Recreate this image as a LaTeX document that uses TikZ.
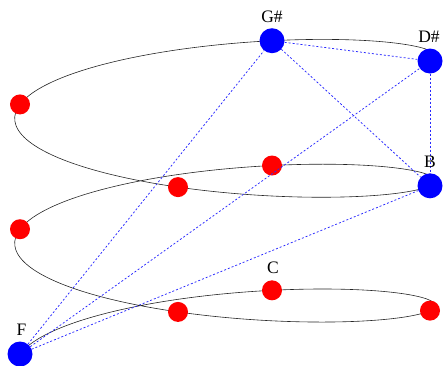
\documentclass[tikz,border=0pt]{standalone}
\usepackage{fontspec}
\setmainfont{Liberation Serif}
\definecolor{linkblue}{RGB}{40,40,255}
\begin{document}
\begin{tikzpicture}[x=1pt,y=-1pt,
  helix/.style={draw=black!85, line width=0.6pt},
  bdot/.style={circle, fill=blue, minimum size=25pt, inner sep=0pt},
  rdot/.style={circle, fill=red, minimum size=20pt, inner sep=0pt},
  link/.style={draw=linkblue, line width=0.75pt, dash pattern=on 2pt off 2pt},
  lbl/.style={font=\fontsize{17.5}{20}\selectfont, inner sep=0pt}]
\useasboundingbox (0,0) rectangle (443,365);
% helix of fifths
\draw[helix] plot[domain=0:10, samples=241, smooth]
  ({225+205*cos(180-90*\x)+47*sin(180-90*\x)},
   {363.5-31.2*\x+9.5*cos(180-90*\x)-42*sin(180-90*\x)});
% dots
\node[bdot] (F)  at (20,354) {};
\node[rdot] (C)  at (272,290.3) {};
\node[rdot] (G)  at (430,310.6) {};
\node[rdot] (D)  at (178,311.9) {};
\node[rdot] (A)  at (20,229.2) {};
\node[rdot] (E)  at (272,165.5) {};
\node[bdot] (B)  at (430,185.8) {};
\node[rdot] (Fs) at (178,187.1) {};
\node[rdot] (Cs) at (20,104.4) {};
\node[bdot] (Gs) at (272,40.7) {};
\node[bdot] (Ds) at (430,61) {};
% links
\draw[link] (F) -- (Gs);
\draw[link] (F) -- (Ds);
\draw[link] (F) -- (B);
\draw[link] (Gs) -- (Ds);
\draw[link] (Gs) -- (B);
\draw[link] (Ds) -- (B);
% labels
\node[lbl] (lGs) at (272,17) {G\#};
\node[lbl] (lDs) at (429,37) {D\#};
\node[lbl] (lB)  at (430,161.5) {B};
\node[lbl] (lC)  at (273,267.5) {C};
\node[lbl] (lF)  at (21.5,330) {F};
\end{tikzpicture}
\end{document}
